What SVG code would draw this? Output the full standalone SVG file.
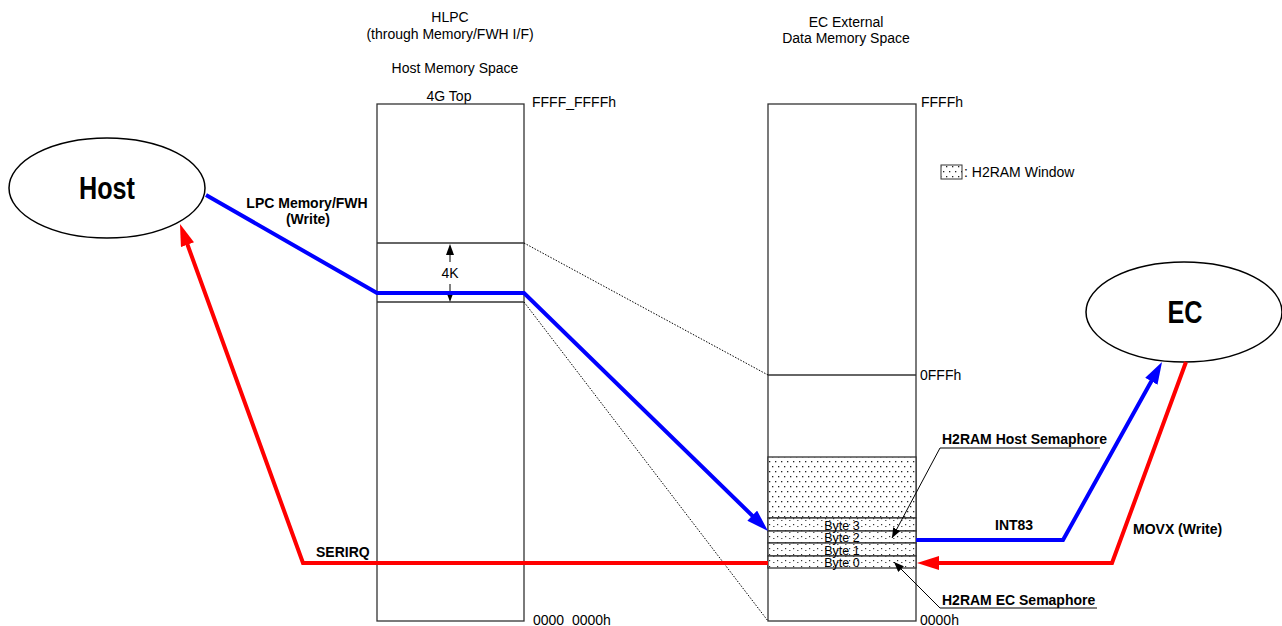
<svg xmlns="http://www.w3.org/2000/svg" width="1282" height="626" viewBox="0 0 1282 626">
<style>
text{font-family:"Liberation Sans",Arial,sans-serif;font-size:14px;fill:#000}
.b{font-weight:bold}
.c{text-anchor:middle}
.sm{font-size:12.5px}
.box{fill:#fff;stroke:#333;stroke-width:1.3}
.ln{stroke:#333;stroke-width:1.3;fill:none}
.dot{stroke:#000;stroke-width:1;stroke-dasharray:1.5 1.5;fill:none}
.blue{stroke:#0000ff;stroke-width:4;fill:none}
.red{stroke:#ff0000;stroke-width:4;fill:none}
.thin{stroke:#000;stroke-width:1;fill:none}
</style>
<defs>
<pattern id="dots" width="12" height="10" patternUnits="userSpaceOnUse">
<rect width="12" height="10" fill="#fff"/>
<rect x="1" y="1" width="1.3" height="1.3" fill="#222"/>
<rect x="7" y="1" width="1.3" height="1.3" fill="#222"/>
<rect x="4" y="6" width="1.3" height="1.3" fill="#222"/>
<rect x="10" y="6" width="1.3" height="1.3" fill="#222"/>
</pattern>
<pattern id="dots2" width="8" height="6" patternUnits="userSpaceOnUse">
<rect width="8" height="6" fill="#fff"/>
<rect x="1" y="2" width="1.2" height="1.2" fill="#333"/>
<rect x="5" y="4" width="1.5" height="0.8" fill="#333"/>
</pattern>
<marker id="ab" markerWidth="22" markerHeight="14" refX="10" refY="7" orient="auto" markerUnits="userSpaceOnUse"><path d="M0,0 L22,7 L0,14 z" fill="#0000ff"/></marker>
<marker id="ar" markerWidth="22" markerHeight="14" refX="10" refY="7" orient="auto" markerUnits="userSpaceOnUse"><path d="M0,0 L22,7 L0,14 z" fill="#ff0000"/></marker>
<marker id="ak" markerWidth="10" markerHeight="8" refX="10" refY="4" orient="auto" markerUnits="userSpaceOnUse"><path d="M0,0 L10,4 L0,8 z" fill="#000"/></marker>
</defs>

<g id="host-memory">
<rect class="box" x="377" y="104" width="147" height="517"/>
<line class="ln" x1="377" y1="243" x2="524" y2="243"/>
<line class="ln" x1="377" y1="302" x2="524" y2="302"/>
<line class="thin" x1="450" y1="254" x2="450" y2="262"/>
<path d="M450,244 L446,255 L454,255 z" fill="#000"/>
<text class="c" x="450" y="278">4K</text>
<line class="thin" x1="450" y1="284" x2="450" y2="292"/>
<path d="M450,302 L446,291 L454,291 z" fill="#000"/>
<text class="c" x="450" y="22">HLPC</text>
<text class="c" x="450" y="39">(through Memory/FWH I/F)</text>
<text class="c" x="455" y="73">Host Memory Space</text>
<text class="c" x="449" y="101">4G Top</text>
<text x="532" y="107">FFFF_FFFFh</text>
<text x="533" y="625" xml:space="preserve">0000  0000h</text>
</g>

<g id="ec-memory">
<rect class="box" x="768" y="104" width="148" height="517"/>
<line class="ln" x1="768" y1="375" x2="916" y2="375"/>
<rect x="768" y="457" width="148" height="61" fill="url(#dots)" stroke="#333" stroke-width="1.3"/>
<rect x="768" y="518" width="148" height="13" fill="url(#dots2)" stroke="#333" stroke-width="1.3"/>
<rect x="768" y="531" width="148" height="12" fill="url(#dots2)" stroke="#333" stroke-width="1.3"/>
<rect x="768" y="543" width="148" height="13" fill="url(#dots2)" stroke="#333" stroke-width="1.3"/>
<rect x="768" y="556" width="148" height="12" fill="url(#dots2)" stroke="#333" stroke-width="1.3"/>
<text class="c sm" x="842" y="530">Byte 3</text>
<text class="c sm" x="842" y="542">Byte 2</text>
<text class="c sm" x="842" y="555">Byte 1</text>
<text class="c sm" x="842" y="567">Byte 0</text>
<text class="c" x="846" y="27">EC External</text>
<text class="c" x="846" y="43">Data Memory Space</text>
<text x="921" y="107">FFFFh</text>
<text x="920" y="380">0FFFh</text>
<text x="920" y="625">0000h</text>
</g>

<g id="legend">
<rect x="941" y="165" width="21" height="14" fill="url(#dots)" stroke="#333" stroke-width="1"/>
<text x="964" y="177">: H2RAM Window</text>
</g>

<g id="host">
<ellipse cx="107" cy="188" rx="98" ry="50" fill="#fff" stroke="#000" stroke-width="1.5"/>
<text class="b c" x="107" y="199" style="font-size:31px" textLength="56" lengthAdjust="spacingAndGlyphs">Host</text>
</g>

<g id="ec">
<ellipse cx="1184" cy="312" rx="98" ry="50" fill="#fff" stroke="#000" stroke-width="1.5"/>
<text class="b c" x="1185" y="323" style="font-size:31px" textLength="35" lengthAdjust="spacingAndGlyphs">EC</text>
</g>

<g id="connectors">
<line class="dot" x1="524" y1="243" x2="768" y2="375"/>
<line class="dot" x1="524" y1="302" x2="768" y2="621"/>
<path class="blue" d="M206,195 L377,293 L524,293 L759.4,522.6" marker-end="url(#ab)"/>
<path class="red" d="M768,563 L303,563 L184.1,235.3" marker-end="url(#ar)"/>
<path class="blue" d="M916,540 L1063,540 L1156.2,372.5" marker-end="url(#ab)"/>
<path class="red" d="M1186,362 L1112,563 L929,563" marker-end="url(#ar)"/>
<path class="thin" d="M1100,448 L940,448 L892,538" marker-end="url(#ak)"/>
<path class="thin" d="M1097,608 L940,608 L894,562" marker-end="url(#ak)"/>
</g>

<g id="labels">
<text class="b c" x="307" y="208">LPC Memory/FWH</text>
<text class="b c" x="308" y="224">(Write)</text>
<text class="b" x="316" y="557">SERIRQ</text>
<text class="b" x="995" y="530">INT83</text>
<text class="b" x="1133" y="534">MOVX (Write)</text>
<text class="b" x="942" y="444">H2RAM Host Semaphore</text>
<text class="b" x="942" y="605">H2RAM EC Semaphore</text>
</g>
</svg>
